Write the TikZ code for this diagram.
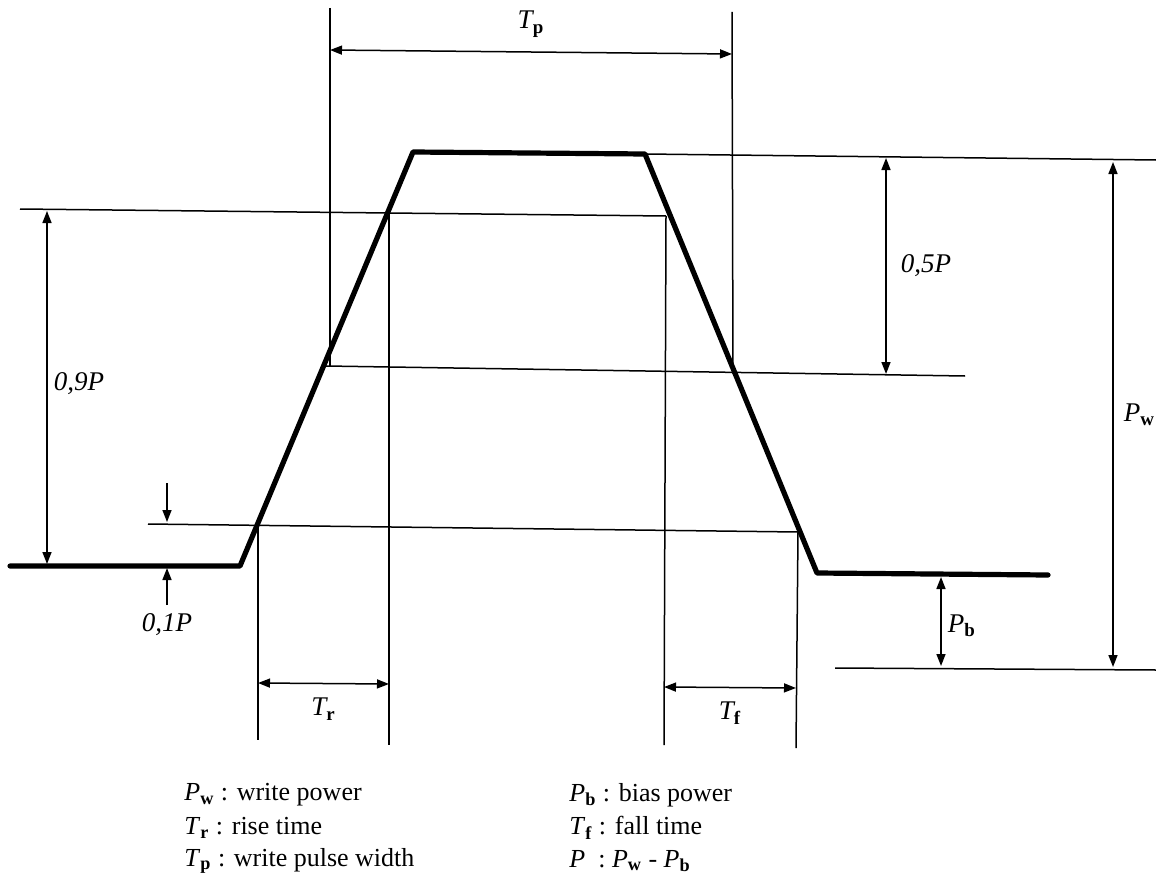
\documentclass[tikz,border=0pt]{standalone}
\usepackage{fontspec}
\setmainfont{Liberation Serif}
\usetikzlibrary{arrows.meta,positioning,calc}

% quantity with upright subscript
\newcommand{\qty}[2]{\textit{#1}\textsubscript{\upshape\bfseries #2}}

\tikzset{
  wave/.style={line width=2.6pt,line join=round,line cap=round},
  guide/.style={line width=0.75pt},
  dim/.style={line width=0.75pt,{Triangle[length=6pt,width=4.5pt]}-{Triangle[length=6pt,width=4.5pt]}},
  tick/.style={line width=0.75pt,-{Triangle[length=6pt,width=4.5pt]}},
  lbl/.style={font=\fontsize{13.5}{16}\selectfont\itshape,inner sep=1pt},
  legend/.style={font=\fontsize{13}{16}\selectfont,anchor=west,inner sep=0pt}
}

\begin{document}
\begin{tikzpicture}[x=0.5pt,y=-0.5pt]
  \useasboundingbox (0,0) rectangle (1156,888);

  % Pulse shape
  \coordinate (b0) at (10,566);
  \coordinate (r0) at (240,566);
  \coordinate (r1) at (413,152);
  \coordinate (f0) at (645,154);
  \coordinate (f1) at (817,573);
  \coordinate (b1) at (1048,575);
  \draw[wave] (b0) -- (r0) -- (r1) -- (f0) -- (f1) -- (b1);

  % Level crossings
  \coordinate (r10) at (258,525);
  \coordinate (r50) at (326,366);
  \coordinate (r90) at (389,211);
  \coordinate (f90) at (666,216);
  \coordinate (f50) at (733,374);
  \coordinate (f10) at (798,532);

  % Level lines
  \draw[guide] (20,209) -- (f90);
  \draw[guide] (r50) -- (965,376);
  \draw[guide] (148,524) -- (f10);
  \draw[guide] (f0) -- (1156,160);
  \draw[guide] (835,668) -- (1156,670);

  % Vertical guides
  \draw[guide] (330,8) -- (330,366);
  \draw[guide] (732,12) -- (f50);
  \draw[guide] (r10) -- (258,740);
  \draw[guide] (r90) -- (389,745);
  \draw[guide] (f90) -- (664,745);
  \draw[guide] (f10) -- (796,748);

  % Time dimensions
  \draw[dim] (330,50) -- node[lbl,above=6pt] (tp) {\qty{T}{p}} (732,54);
  \draw[dim] (258,683) -- node[lbl,below=6pt] (tr) {\qty{T}{r}} (389,684);
  \draw[dim] (664,687) -- node[lbl,below=6pt] (tf) {\qty{T}{f}} (796,688);

  % Power dimensions
  \draw[dim] (47,211) -- node[lbl,right=2pt,pos=0.49] (p90) {0,9P} (47,564);
  \draw[dim] (886,158) -- node[lbl,right=6pt,pos=0.5] (p50) {0,5P} (886,374);
  \draw[dim] (1113,162) -- node[lbl,right=4pt,pos=0.5] (pw) {\qty{P}{w}} (1113,667);
  \draw[dim] (941,577) -- node[lbl,right=2pt,pos=0.55] (pb) {\qty{P}{b}} (941,666);
  \draw[tick] (167,483) -- (167,522);
  \draw[tick] (167,605) -- (167,568);
  \node[lbl] (p10) at (167,625) {0,1P};

  % Legend
  \node[legend] (lw) at (184,795) {\qty{P}{w} : write power};
  \node[legend] (lr) at (184,828) {\qty{T}{r} : rise time};
  \node[legend] (lp) at (184,861) {\qty{T}{p} : write pulse width};
  \node[legend] (lb) at (569,795) {\qty{P}{b} : bias power};
  \node[legend] (lf) at (569,828) {\qty{T}{f} : fall time};
  \node[legend] (ld) at (569,861) {\textit{P}\ \ : \qty{P}{w} - \qty{P}{b}};
\end{tikzpicture}
\end{document}
